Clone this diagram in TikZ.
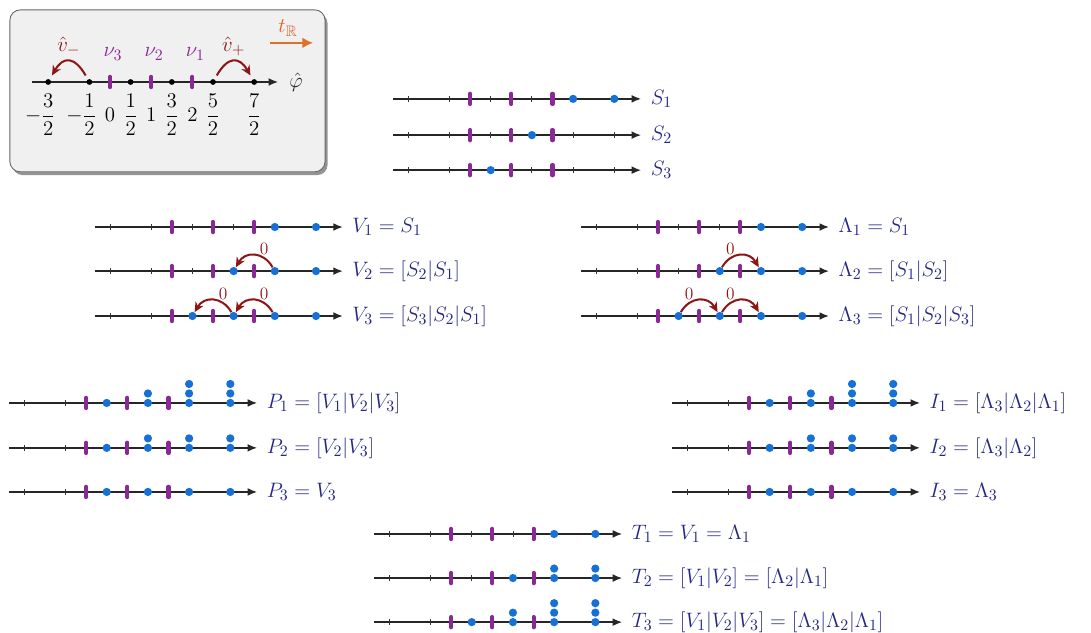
\documentclass[tikz,border=0pt]{standalone}
\usepackage{amsmath}
\usepackage{amssymb}
\usepackage{xcolor}
\usetikzlibrary{arrows.meta, calc, shadows}

\definecolor{dotblue}{RGB}{22,112,214}
\definecolor{wallpurple}{RGB}{138,40,150}
\definecolor{jumpred}{RGB}{140,22,22}
\definecolor{labelnavy}{RGB}{36,38,132}
\definecolor{floworange}{RGB}{222,112,40}

\begin{document}
\begin{tikzpicture}[
		axis/.style={-{Latex[length=2.3mm, width=1.9mm]}, line width=1pt, black!85},
		tickmark/.style={line width=0.6pt, black!80},
		wall/.style={line width=0.1cm, wallpurple, line cap=round},
		dot/.style={circle, fill=dotblue, inner sep=0pt, minimum size=0.2cm},
		kdot/.style={circle, fill=black, inner sep=0pt, minimum size=0.14cm},
		jump/.style={-{Stealth[length=2.4mm, width=2.2mm]}, line width=1.4pt, jumpred},
		rowlabel/.style={anchor=west, xshift=0.1cm, text=labelnavy, font=\fontsize{15.5}{18}\selectfont},
		zero/.style={text=jumpred, font=\fontsize{13}{15}\selectfont, inner sep=2pt},
		legendtext/.style={font=\fontsize{15}{18}\selectfont},
		legendbox/.style={draw=black!60, fill=black!6, rounded corners=0.25cm, line width=0.6pt,
			drop shadow={shadow xshift=0.06cm, shadow yshift=-0.08cm, fill=black!70, opacity=0.6}},
		numline/.pic={
			\draw[axis] (-1.87,0) -- (4.15,0) node[rowlabel] (-lbl) {#1};
			\foreach \tk in {-1.5,-0.5,...,3.5}
				\draw[tickmark] (\tk,-0.07) -- (\tk,0.07);
			\foreach \wl in {0,1,2}
				\draw[wall] (\wl,-0.125) -- (\wl,0.125);
		},
		]
		\useasboundingbox (0,0) rectangle (26.48,-15.34);
		
		%% -- LEGEND -------------------------------------------------
		\draw[legendbox] (0.24,-0.24) rectangle (7.89,-4.17);
		\coordinate (key) at (2.67,-1.99);
		\draw[axis] ($(key)+(-1.89,0)$) -- ($(key)+(4.08,0)$)
			node[legendtext, anchor=west, xshift=0.14cm] (phi) {$\hat{\varphi}$};
		\foreach \wl/\m in {0/3,1/2,2/1} {
			\draw[wall] ($(key)+(\wl,-0.125)$) -- ($(key)+(\wl,0.125)$);
			\node[legendtext, text=wallpurple] (nu\m) at ($(key)+(\wl+0.07,0.68)$) {$\nu_\m$};
		}
		\foreach \x [count=\n] in {-1.5,-0.5,0.5,1.5,2.5,3.5}
			\node[kdot] (k\n) at ($(key)+(\x,0)$) {};
		\foreach \x/\txt [count=\n] in {-1.5/{\llap{$-$}$\dfrac{3}{2}$}, -0.5/{\llap{$-$}$\dfrac{1}{2}$},
				0/$0$, 0.5/$\dfrac{1}{2}$, 1/$1$, 1.5/$\dfrac{3}{2}$, 2/$2$, 2.5/$\dfrac{5}{2}$, 3.5/$\dfrac{7}{2}$}
			\node[legendtext] (f\n) at ($(key)+(\x,-0.8)$) {\txt};
		
		% hops
		\draw[jump, shorten <=3pt, shorten >=3pt] (k2) to[bend right=60, looseness=1.8]
			node[legendtext, text=jumpred, midway, above] (vminus) {$\hat{v}_-$} (k1);
		\draw[jump, shorten <=3pt, shorten >=3pt] (k5) to[bend left=60, looseness=1.8]
			node[legendtext, text=jumpred, midway, above] (vplus) {$\hat{v}_+$} (k6);
		
		% flow
		\coordinate (tstart) at (6.55,-1.04);
		\coordinate (tend) at (7.60,-1.04);
		\draw[-{Latex[length=2.6mm, width=2.6mm]}, line width=1.8pt, floworange] (tstart) -- (tend);
		\node[legendtext, text=floworange!85!red] (tR) at (6.99,-0.68) {$t_{\mathbb{R}}$};
		
		%% -- ROWS ---------------------------------------------------
		\coordinate (S1) at (11.41,-2.40);
		\coordinate (S2) at (11.41,-3.28);
		\coordinate (S3) at (11.41,-4.13);
		\coordinate (V1) at (4.17,-5.51);
		\coordinate (V2) at (4.17,-6.58);
		\coordinate (V3) at (4.17,-7.67);
		\coordinate (L1) at (15.97,-5.51);
		\coordinate (L2) at (15.97,-6.58);
		\coordinate (L3) at (15.97,-7.67);
		\coordinate (P1) at (2.09,-9.78);
		\coordinate (P2) at (2.09,-10.87);
		\coordinate (P3) at (2.09,-11.94);
		\coordinate (I1) at (18.18,-9.78);
		\coordinate (I2) at (18.18,-10.87);
		\coordinate (I3) at (18.18,-11.94);
		\coordinate (T1) at (10.95,-12.96);
		\coordinate (T2) at (10.95,-14.03);
		\coordinate (T3) at (10.95,-15.10);
		
		\pic (s1) at (S1) {numline={$S_1$}};
		\pic (s2) at (S2) {numline={$S_2$}};
		\pic (s3) at (S3) {numline={$S_3$}};
		\pic (v1) at (V1) {numline={$V_1 = S_1$}};
		\pic (v2) at (V2) {numline={$V_2 = [S_2|S_1]$}};
		\pic (v3) at (V3) {numline={$V_3 = [S_3|S_2|S_1]$}};
		\pic (l1) at (L1) {numline={$\Lambda_1 = S_1$}};
		\pic (l2) at (L2) {numline={$\Lambda_2 = [S_1|S_2]$}};
		\pic (l3) at (L3) {numline={$\Lambda_3 = [S_1|S_2|S_3]$}};
		\pic (p1) at (P1) {numline={$P_1 = [V_1|V_2|V_3]$}};
		\pic (p2) at (P2) {numline={$P_2 = [V_2|V_3]$}};
		\pic (p3) at (P3) {numline={$P_3 = V_3$}};
		\pic (i1) at (I1) {numline={$I_1 = [\Lambda_3|\Lambda_2|\Lambda_1]$}};
		\pic (i2) at (I2) {numline={$I_2 = [\Lambda_3|\Lambda_2]$}};
		\pic (i3) at (I3) {numline={$I_3 = \Lambda_3$}};
		\pic (t1) at (T1) {numline={$T_1 = V_1 = \Lambda_1$}};
		\pic (t2) at (T2) {numline={$T_2 = [V_1|V_2] = [\Lambda_2|\Lambda_1]$}};
		\pic (t3) at (T3) {numline={$T_3 = [V_1|V_2|V_3] = [\Lambda_3|\Lambda_2|\Lambda_1]$}};
		
		% occupied sites: slot/count
		\foreach \r/\spec in {S1/{3/1,4/1}, S2/{2/1}, S3/{1/1},
				V1/{3/1,4/1}, V2/{2/1,3/1,4/1}, V3/{1/1,2/1,3/1,4/1},
				L1/{3/1,4/1}, L2/{2/1,3/1,4/1}, L3/{1/1,2/1,3/1,4/1},
				P1/{1/1,2/2,3/3,4/3}, P2/{1/1,2/2,3/2,4/2}, P3/{1/1,2/1,3/1,4/1},
				I1/{1/1,2/2,3/3,4/3}, I2/{1/1,2/2,3/2,4/2}, I3/{1/1,2/1,3/1,4/1},
				T1/{3/1,4/1}, T2/{2/1,3/2,4/2}, T3/{1/1,2/2,3/3,4/3}}
			\foreach \i/\n in \spec
				\foreach \k in {1,...,\n}
					\node[dot] (\r-\i-\k) at ($(\r)+({\i-0.5},{(\k-1)*0.23})$) {};
		
		% zero-cost hops
		\draw[jump] (V2-3-1) to[bend right=60, looseness=1.3] node[zero, pos=0.25, above] (v2z) {$0$} (V2-2-1);
		\draw[jump] (V3-3-1) to[bend right=60, looseness=1.3] node[zero, pos=0.25, above] (v3za) {$0$} (V3-2-1);
		\draw[jump] (V3-2-1) to[bend right=60, looseness=1.3] node[zero, pos=0.25, above] (v3zb) {$0$} (V3-1-1);
		\draw[jump] (L2-2-1) to[bend left=60, looseness=1.3] node[zero, pos=0.25, above] (l2z) {$0$} (L2-3-1);
		\draw[jump] (L3-1-1) to[bend left=60, looseness=1.3] node[zero, pos=0.25, above] (l3za) {$0$} (L3-2-1);
		\draw[jump] (L3-2-1) to[bend left=60, looseness=1.3] node[zero, pos=0.25, above] (l3zb) {$0$} (L3-3-1);
		
	\end{tikzpicture}
\end{document}
